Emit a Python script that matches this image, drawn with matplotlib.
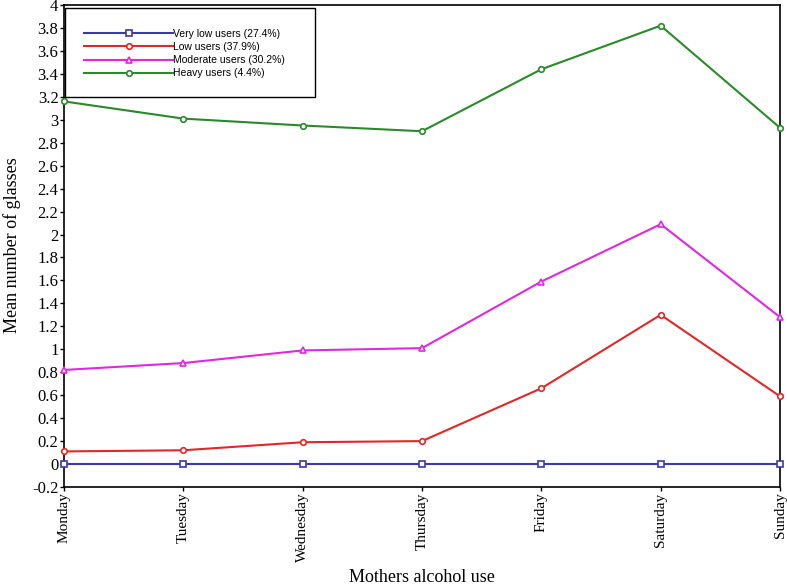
import matplotlib.pyplot as plt
from matplotlib.patches import Rectangle

days = ["Monday", "Tuesday", "Wednesday", "Thursday", "Friday", "Saturday", "Sunday"]
very_low = [0, 0, 0, 0, 0, 0, 0]
low = [0.11, 0.12, 0.19, 0.20, 0.66, 1.30, 0.59]
moderate = [0.82, 0.88, 0.99, 1.01, 1.59, 2.09, 1.28]
heavy = [3.16, 3.01, 2.95, 2.90, 3.44, 3.82, 2.93]
labels = ["Very low users (27.4%)", "Low users (37.9%)",
          "Moderate users (30.2%)", "Heavy users (4.4%)"]
y_ticks = [-0.2, 0, 0.2, 0.4, 0.6, 0.8, 1, 1.2, 1.4, 1.6, 1.8, 2, 2.2, 2.4,
           2.6, 2.8, 3, 3.2, 3.4, 3.6, 3.8, 4]

serif = "Liberation Serif"
sans = "Liberation Sans"

fig = plt.figure(figsize=(7.87, 5.84), dpi=100)
ax = fig.add_axes([64 / 787, 1 - 487 / 584, (780 - 64) / 787, (487 - 5) / 584])

x = list(range(len(days)))
series = [very_low, low, moderate, heavy]
colors = ["#3a3aaa", "#e02828", "#e028e0", "#2a8a2a"]
markers = ["s", "o", "^", "o"]
for vals, c, m, lab in zip(series, colors, markers, labels):
    ax.plot(x, vals, color=c, marker=m, markersize=4, markerfacecolor="white",
            markeredgecolor=c, markeredgewidth=1.2, linewidth=1.5, label=lab,
            clip_on=False, zorder=3)

ax.set_xlim(0, 6)
ax.set_ylim(-0.2, 4)
ax.set_xticks(x)
ax.set_xticklabels(days, rotation=90, fontfamily=serif, fontsize=11)
ax.set_yticks(y_ticks)
ax.set_yticklabels([f"{t:g}" for t in y_ticks], fontfamily=serif, fontsize=12)
ax.tick_params(direction="out", length=3, width=1, pad=1)
for s in ax.spines.values():
    s.set_linewidth(1.2)

fig.text(12 / 787, 1 - 245 / 584, "Mean number of glasses", rotation=90,
         ha="center", va="center", fontfamily=serif, fontsize=13)
fig.text(422 / 787, 1 - 577 / 584, "Mothers alcohol use", ha="center",
         va="center", fontfamily=serif, fontsize=13)

# legend box
fig.patches.append(Rectangle((65 / 787, 1 - 97 / 584), 250 / 787, 89 / 584,
                             transform=fig.transFigure, fill=True,
                             facecolor="white", edgecolor="black",
                             linewidth=1, zorder=5))
leg = fig.legend(loc="upper left", bbox_to_anchor=(84 / 787, 1 - 29 / 584),
                 frameon=False, prop={"family": sans, "size": 7.5},
                 handlelength=8.55, handletextpad=0, labelspacing=0.3,
                 borderpad=0, borderaxespad=0)
leg.set_zorder(6)

fig.savefig("out.png", dpi=100)
